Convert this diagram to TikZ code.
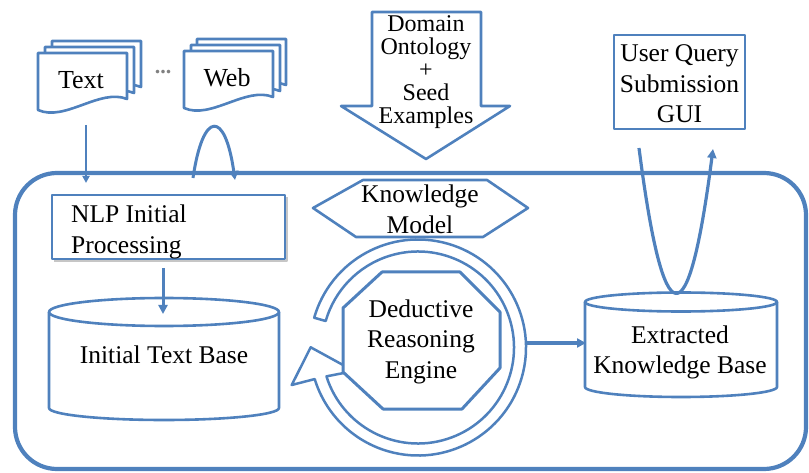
\documentclass[tikz,border=0pt]{standalone}
\usepackage{fontspec}
\setmainfont{Liberation Serif}
\usetikzlibrary{arrows.meta,calc}
\definecolor{ob}{RGB}{79,129,189}
\begin{document}
\begin{tikzpicture}[x=1pt,y=-1pt,line join=round,
  shp/.style={draw=ob, line width=2.6pt, fill=white},
  lbl/.style={inner sep=0pt, align=center, font=\fontsize{25.5}{30.5}\selectfont},
  conn/.style={draw=ob, line width=3pt, -{Triangle[length=9pt,width=9pt]}},
  docpic/.pic={\path[shp] (0,0) -- (89,0) -- (89,46) .. controls (62,35) and (27,69) .. (0,57) -- cycle;}
]
\useasboundingbox (0,0) rectangle (809,473);

% outer system frame
\draw[draw=ob, line width=4.2pt, rounded corners=42pt] (15,173) rectangle (806,469);

% document stacks
\pic at (52,41) {docpic};
\pic at (45,47) {docpic};
\pic at (38,53) {docpic};
\pic at (197,39) {docpic};
\pic at (191,45) {docpic};
\pic at (184,51) {docpic};
\node[lbl, font=\fontsize{26}{30}\selectfont, anchor=base] (txt) at (81,89) {Text};
\node[lbl, font=\fontsize{26}{30}\selectfont, anchor=base] (web) at (227,87) {Web};
\node[inner sep=0pt, text=gray, font=\fontsize{22}{22}\selectfont\bfseries, anchor=base] (dots) at (163,74) {...};

% domain ontology block arrow
\path[shp] (372,12) -- (481,12) -- (481,106) -- (510,106) -- (426,159) -- (341,106) -- (372,106) -- cycle;
\node[lbl, font=\fontsize{24}{23}\selectfont] (dom) at (426,72.5) {Domain\\Ontology\\+\\Seed\\Examples};

% user query box
\path[shp] (614,35) rectangle (745,129);
\node[lbl] (gui) at (679.5,84) {User Query\\Submission\\GUI};

% NLP box
\path[draw=gray!45, line width=2pt] (54,261) -- (287,261) -- (287,197);
\path[shp] (52,195) rectangle (285,259);
\node[lbl, align=left, anchor=west] (nlp) at (71,231.7) {NLP Initial\\Processing};

% initial text base cylinder
\path[shp] (49,312) -- (49,408) arc[start angle=180, end angle=0, x radius=115, y radius=12] -- (279,312);
\draw[shp] (164,312) ellipse[x radius=115, y radius=14];
\node[lbl, anchor=base] (itb) at (164,363) {Initial Text Base};

% extracted knowledge base cylinder
\path[shp] (585,302) -- (585,387) arc[start angle=180, end angle=0, x radius=96, y radius=10] -- (777,302);
\draw[shp] (681,302) ellipse[x radius=96, y radius=9.5];
\node[lbl] (ekb) at (680,352.2) {Extracted\\Knowledge Base};

% knowledge model hexagon
\path[shp] (313,208) -- (363,180) -- (487,180) -- (528,208) -- (483,237) -- (356,237) -- cycle;

% circular arrow
\coordinate (C) at (418,347.5);
\path[draw=ob, line width=2.5pt, fill=white] ($(C)+(-164:108)$) arc[start angle=-164, end angle=163, radius=108]
  -- (291.7,385) -- (310.7,347.3) -- (354,371) -- ($(C)+(162.5:96)$)
  arc[start angle=162.5, end angle=-164, radius=96] -- cycle;

% octagon
\path[shp, line width=3pt] (382,272) -- (460,272) -- (500,312) -- (500,368) -- (462,409) -- (383,409) -- (343,372) -- (343,308) -- cycle;
\node[lbl] (dre) at (421,341.6) {Deductive\\Reasoning\\Engine};
\node[lbl] (km) at (420,209.3) {Knowledge\\Model};

% connectors
\coordinate (txtout) at (86,125);
\coordinate (sysin) at (86,183);
\coordinate (webA) at (193,178);
\coordinate (webB) at (235,180);
\coordinate (nlpout) at (163,268);
\coordinate (itbin) at (163,314);
\coordinate (ringout) at (527,343);
\coordinate (ekbin) at (586,343);
\coordinate (guiA) at (639,148);
\coordinate (guiB) at (713,149);

\draw[conn, line width=2.2pt, -{Triangle[length=7pt,width=7pt]}] (txtout) -- (sysin);
\draw[conn] (webA) .. controls (203,110) and (225,110) .. (webB);
\draw[conn] (nlpout) -- (itbin);
\draw[conn, line width=3.5pt] (ringout) -- (ekbin);
\draw[conn, line width=3.2pt] (guiA) .. controls (663.7,340) and (688.3,340.7) .. (guiB);
\end{tikzpicture}
\end{document}
